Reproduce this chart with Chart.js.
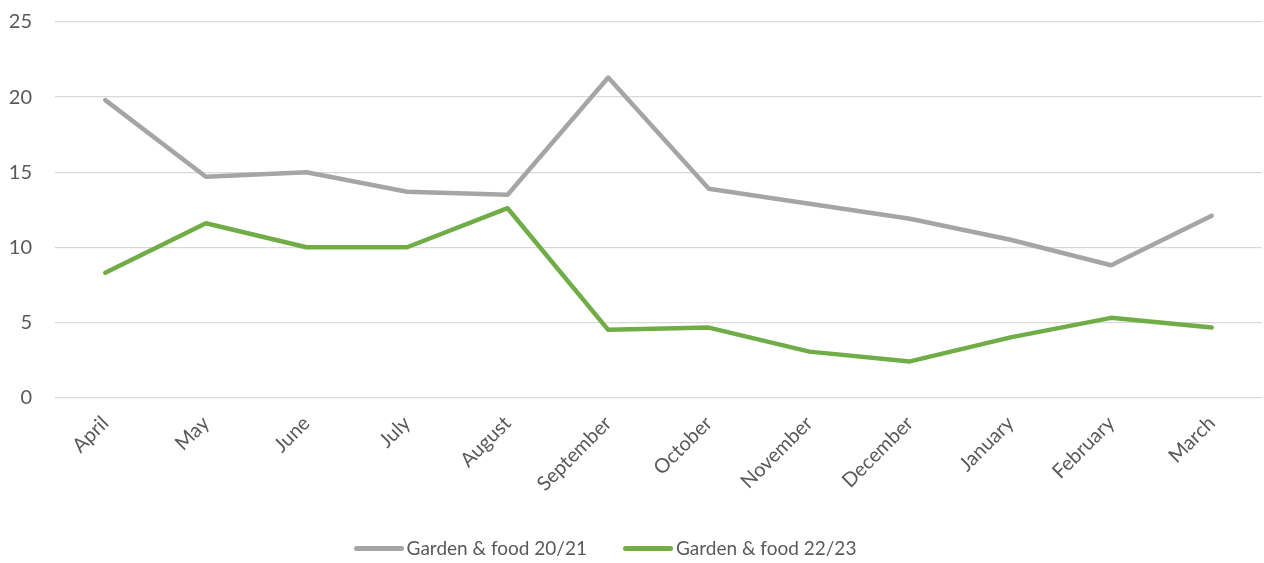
<!DOCTYPE html>
<html lang="en">
<head>
  <meta charset="UTF-8" />
  <title>Garden & food</title>
  <script src="https://cdn.jsdelivr.net/npm/chart.js"></script>
  <style>
    html, body {
      margin: 0;
      padding: 0;
      background: #fff;
      font-family: Lato, "Open Sans", sans-serif;
    }
    .wrap {
      position: relative;
      width: 1264px;
      height: 563px;
      overflow: hidden;
    }
    .chart-box {
      position: absolute;
      left: 0;
      top: -13px;
      width: 1264px;
      height: 576px;
    }
    #legend {
      position: absolute;
      left: 0;
      top: 536px;
      width: 1210px;
      display: flex;
      justify-content: center;
      gap: 36px;
      font-size: 19px;
      color: #595959;
      line-height: 24px;
    }
    .item {
      display: flex;
      align-items: center;
      gap: 3px;
    }
    .swatch {
      width: 50px;
      height: 5px;
      border-radius: 3px;
    }
  </style>
</head>
<body>
  <div class="wrap">
    <div class="chart-box"><canvas id="gardenChart"></canvas></div>
    <div id="legend"></div>
  </div>

  <script>
    const months = ['April', 'May', 'June', 'July', 'August', 'September',
                    'October', 'November', 'December', 'January', 'February', 'March'];
    const garden2021 = [19.8, 14.7, 15.0, 13.7, 13.5, 21.3, 13.9, 12.9, 11.9, 10.5, 8.8, 12.1];
    const garden2223 = [8.3, 11.6, 10.0, 10.0, 12.6, 4.5, 4.65, 3.05, 2.4, 4.0, 5.3, 4.65];
    const yTicks = [0, 5, 10, 15, 20, 25];

    const textColor = '#595959';
    const fontFamily = 'Lato, "Open Sans", sans-serif';

    // legend built as html under the canvas, from the chart's own labels
    const htmlLegend = {
      id: 'htmlLegend',
      afterUpdate(chart) {
        const box = document.getElementById('legend');
        box.innerHTML = '';
        chart.options.plugins.legend.labels.generateLabels(chart).forEach(item => {
          const el = document.createElement('div');
          el.className = 'item';
          const sw = document.createElement('span');
          sw.className = 'swatch';
          sw.style.background = item.strokeStyle;
          const txt = document.createElement('span');
          txt.textContent = item.text;
          el.appendChild(sw);
          el.appendChild(txt);
          box.appendChild(el);
        });
      }
    };

    const ctx = document.getElementById('gardenChart').getContext('2d');
    new Chart(ctx, {
      type: 'line',
      data: {
        labels: months,
        datasets: [
          {
            label: 'Garden & food 20/21',
            data: garden2021,
            borderColor: '#a5a5a5',
            backgroundColor: '#a5a5a5',
            borderWidth: 4.5,
            pointRadius: 0,
            tension: 0,
            borderCapStyle: 'round',
            borderJoinStyle: 'round'
          },
          {
            label: 'Garden & food 22/23',
            data: garden2223,
            borderColor: '#70ad47',
            backgroundColor: '#70ad47',
            borderWidth: 4.5,
            pointRadius: 0,
            tension: 0,
            borderCapStyle: 'round',
            borderJoinStyle: 'round'
          }
        ]
      },
      options: {
        responsive: true,
        maintainAspectRatio: false,
        animation: false,
        layout: {
          padding: { top: 0, right: 2, bottom: 61, left: 0 }
        },
        plugins: {
          tooltip: { enabled: false },
          legend: { display: false }
        },
        scales: {
          x: {
            offset: true,
            grid: { display: false },
            border: { display: false },
            ticks: {
              color: textColor,
              font: { family: fontFamily, size: 20 },
              minRotation: 45,
              maxRotation: 45,
              padding: 6
            }
          },
          y: {
            min: 0,
            max: 25,
            afterBuildTicks(axis) {
              axis.ticks = yTicks.map(v => ({ value: v }));
            },
            afterFit(axis) {
              axis.width = 55;
            },
            grid: { color: '#d9d9d9', lineWidth: 1.3, drawTicks: false },
            border: { display: false },
            ticks: {
              color: textColor,
              font: { family: fontFamily, size: 20 },
              padding: 23
            }
          }
        }
      },
      plugins: [htmlLegend]
    });
  </script>
</body>
</html>
